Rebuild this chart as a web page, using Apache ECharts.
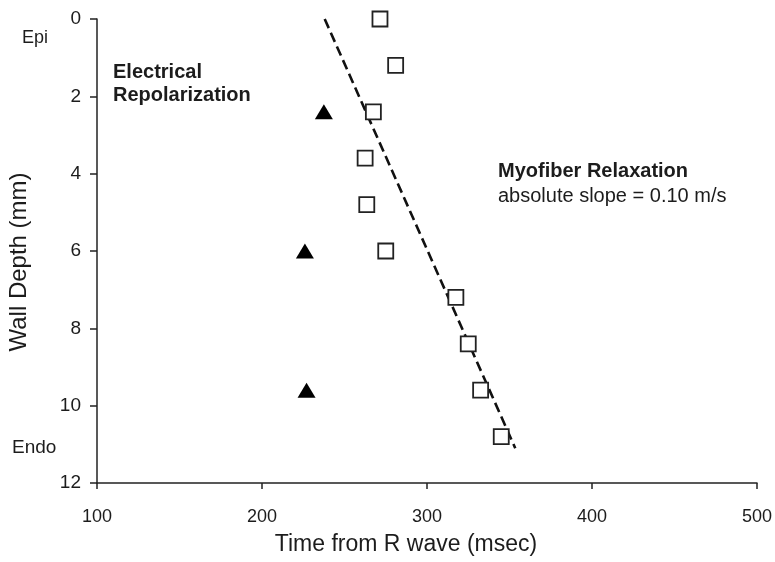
<!DOCTYPE html>
<html>
<head>
<meta charset="utf-8">
<script src="https://cdn.jsdelivr.net/npm/echarts@6/dist/echarts.min.js"></script>
<style>
  html, body { margin: 0; padding: 0; background: #fff; }
  #chart { width: 775px; height: 562px; }
</style>
</head>
<body>
<div id="chart"></div>
<script>
// relaxation (open squares)
var relaxTime = [271.5, 281, 267.5, 262.5, 263.5, 275, 317.5, 325, 332.5, 345];
var relaxDepth = [0, 1.2, 2.4, 3.6, 4.8, 6.0, 7.2, 8.4, 9.6, 10.8];

// repolarization (filled triangles)
var repolTime = [237.5, 226, 227];
var repolDepth = [2.4, 6.0, 9.6];

// fitted line ends
var fitTime = [238, 353.5];
var fitDepth = [0, 11.1];

var xTicks = [100, 200, 300, 400, 500];
var yTicks = [0, 2, 4, 6, 8, 10, 12];

function pairs(xs, ys) {
  return xs.map(function (x, i) { return [x, ys[i]]; });
}

var font = "Liberation Sans, Arial, sans-serif";
var ink = "#1c1c1c";

var myChart = echarts.init(document.getElementById("chart"));

var option = {
  animation: false,
  backgroundColor: "#fff",
  textStyle: { fontFamily: font, color: ink },
  grid: { left: 97, top: 19, right: 18, bottom: 79, containLabel: false, outerBoundsMode: "none" },
  xAxis: {
    type: "value",
    position: "bottom",
    min: xTicks[0],
    max: xTicks[xTicks.length - 1],
    interval: 100,
    name: "Time from R wave (msec)",
    nameLocation: "middle",
    nameGap: 50,
    nameTextStyle: { fontSize: 23, color: ink, fontFamily: font, padding: [0, 42, 0, 0] },
    axisLine: { onZero: false, lineStyle: { color: "#222", width: 1.5 } },
    axisTick: { inside: false, length: 6, lineStyle: { color: "#222", width: 1.5 } },
    axisLabel: { fontSize: 18, color: ink, margin: 25, fontFamily: font },
    splitLine: { show: false }
  },
  yAxis: {
    type: "value",
    inverse: true,
    min: yTicks[0],
    max: yTicks[yTicks.length - 1],
    interval: 2,
    name: "Wall Depth (mm)",
    nameLocation: "middle",
    nameGap: 66,
    nameTextStyle: { fontSize: 24, color: ink, fontFamily: font, padding: [0, 22, 0, 0] },
    axisLine: { show: true, onZero: false, lineStyle: { color: "#222", width: 1.5 } },
    axisTick: { show: true, inside: false, length: 7, lineStyle: { color: "#222", width: 1.5 } },
    axisLabel: { fontSize: 19, color: ink, margin: 16, fontFamily: font },
    splitLine: { show: false }
  },
  graphic: [
    { type: "text", left: 22, top: 29, style: { text: "Epi", fontSize: 18, fill: ink, fontFamily: font } },
    { type: "text", left: 12, top: 438, style: { text: "Endo", fontSize: 19, fill: ink, fontFamily: font } },
    { type: "text", left: 113, top: 61, style: { text: "Electrical\nRepolarization", fontSize: 20, lineHeight: 23, fontWeight: "bold", fill: ink, fontFamily: font } },
    { type: "text", left: 498, top: 161, style: { text: "Myofiber Relaxation", fontSize: 20, fontWeight: "bold", fill: ink, fontFamily: font } },
    { type: "text", left: 498, top: 186, style: { text: "absolute slope = 0.10 m/s", fontSize: 20, fill: ink, fontFamily: font } }
  ],
  series: [
    {
      type: "line",
      data: pairs(fitTime, fitDepth),
      symbol: "none",
      z: 1,
      lineStyle: { color: "#111", width: 2.6, type: [10, 5] }
    },
    {
      type: "scatter",
      data: pairs(relaxTime, relaxDepth),
      symbol: "rect",
      symbolSize: 15,
      z: 3,
      itemStyle: { color: "#fff", borderColor: "#222", borderWidth: 1.8, opacity: 1 }
    },
    {
      type: "scatter",
      data: pairs(repolTime, repolDepth),
      symbol: "triangle",
      symbolSize: [18, 15],
      z: 3,
      itemStyle: { color: "#000", opacity: 1 }
    }
  ]
};

myChart.setOption(option);
</script>
</body>
</html>
